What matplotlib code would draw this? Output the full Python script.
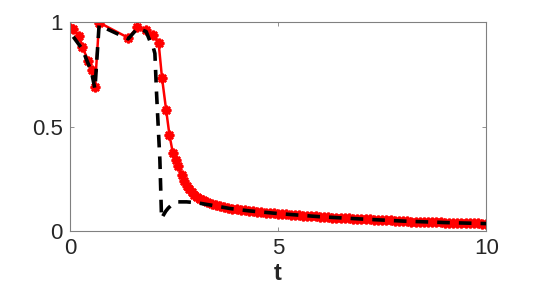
import matplotlib
matplotlib.use("Agg")
import matplotlib.pyplot as plt

# red series (with markers)
t_red = [0.0, 0.08, 0.22, 0.30, 0.44, 0.52, 0.60, 0.70, 1.40, 1.62, 1.83, 2.00, 2.13,
         2.21, 2.31, 2.39, 2.47, 2.54, 2.60, 2.68, 2.74, 2.80, 2.86, 2.92, 2.98, 3.04,
         3.12, 3.20, 3.30, 3.40, 3.50, 3.60, 3.70, 3.80, 3.90, 4.00, 4.10, 4.20, 4.30,
         4.40, 4.50, 4.60, 4.70, 4.80, 4.90, 5.00, 5.10, 5.20, 5.30, 5.40, 5.50, 5.60,
         5.70, 5.80, 5.90, 6.00, 6.10, 6.20, 6.30, 6.40, 6.50, 6.60, 6.70, 6.80, 6.90,
         7.00, 7.10, 7.20, 7.30, 7.40, 7.50, 7.60, 7.70, 7.80, 7.90, 8.00, 8.10, 8.20,
         8.30, 8.40, 8.50, 8.60, 8.70, 8.80, 8.90, 9.00, 9.10, 9.20, 9.30, 9.40, 9.50,
         9.60, 9.70, 9.80, 9.90, 10.00]
y_red = [0.97, 0.965, 0.935, 0.88, 0.815, 0.77, 0.69, 0.998, 0.925, 0.975, 0.96, 0.94, 0.90,
         0.735, 0.58, 0.46, 0.375, 0.34, 0.31, 0.27, 0.24, 0.215, 0.20, 0.185, 0.175, 0.165,
         0.155, 0.148, 0.140, 0.132, 0.125, 0.120, 0.115, 0.111, 0.107, 0.104, 0.101, 0.099, 0.097,
         0.095, 0.093, 0.091, 0.089, 0.087, 0.085, 0.084, 0.082, 0.080, 0.079, 0.077, 0.076, 0.074,
         0.073, 0.071, 0.070, 0.069, 0.067, 0.066, 0.065, 0.064, 0.063, 0.062, 0.061, 0.060, 0.059,
         0.058, 0.057, 0.056, 0.055, 0.054, 0.053, 0.052, 0.051, 0.050, 0.049, 0.048, 0.047, 0.046,
         0.046, 0.045, 0.044, 0.044, 0.043, 0.042, 0.042, 0.041, 0.040, 0.040, 0.039, 0.039, 0.038,
         0.038, 0.037, 0.037, 0.036, 0.036]

# black dashed series
t_blk = [0.08, 0.30, 0.52, 0.60, 0.70, 1.40, 1.62, 1.83, 1.92, 2.00, 2.04, 2.08, 2.16, 2.20,
         2.24, 2.30, 2.36, 2.44, 2.52, 2.60, 2.80, 3.04, 3.40, 3.85, 4.30, 5.00, 6.00, 7.00,
         8.00, 9.00, 10.00]
y_blk = [0.93, 0.87, 0.76, 0.68, 0.985, 0.92, 0.97, 0.955, 0.91, 0.88, 0.85, 0.66, 0.34, 0.06,
         0.075, 0.095, 0.11, 0.125, 0.135, 0.14, 0.14, 0.136, 0.124, 0.108, 0.097, 0.084, 0.069,
         0.058, 0.048, 0.041, 0.036]

x_ticks = [0, 5, 10]
y_ticks = [0, 0.5, 1]
x_ticklabels = ["0", "5", "10"]
y_ticklabels = ["0", "0.5", "1"]

plt.rcParams['font.family'] = ['Liberation Sans', 'DejaVu Sans']

fig = plt.figure(figsize=(5.38, 2.99), dpi=100)
ax = fig.add_axes([0.130, 0.227, 0.774, 0.699])

ax.plot(t_red, y_red, color='red', lw=1.8, marker=(8, 2, 0), markersize=7,
        markeredgewidth=1.8, markerfacecolor='red', markeredgecolor='red', zorder=2)
ax.plot(t_blk, y_blk, color='black', lw=2.6, linestyle=(0, (3.5, 2.5)), zorder=3)

ax.set_xlim(0, 10)
ax.set_ylim(0, 1)
ax.set_xticks(x_ticks)
ax.set_xticklabels(x_ticklabels)
ax.set_yticks(y_ticks)
ax.set_yticklabels(y_ticklabels)
ax.tick_params(direction='in', length=3, width=0.6, colors='#808080',
               labelcolor='#262626', labelsize=16, top=True, right=True, pad=5)
for s in ax.spines.values():
    s.set_color('#808080')
    s.set_linewidth(0.8)
ax.set_xlabel('t', fontsize=17, fontweight='bold', color='#262626', labelpad=2)

fig.savefig('out.png', dpi=100)
